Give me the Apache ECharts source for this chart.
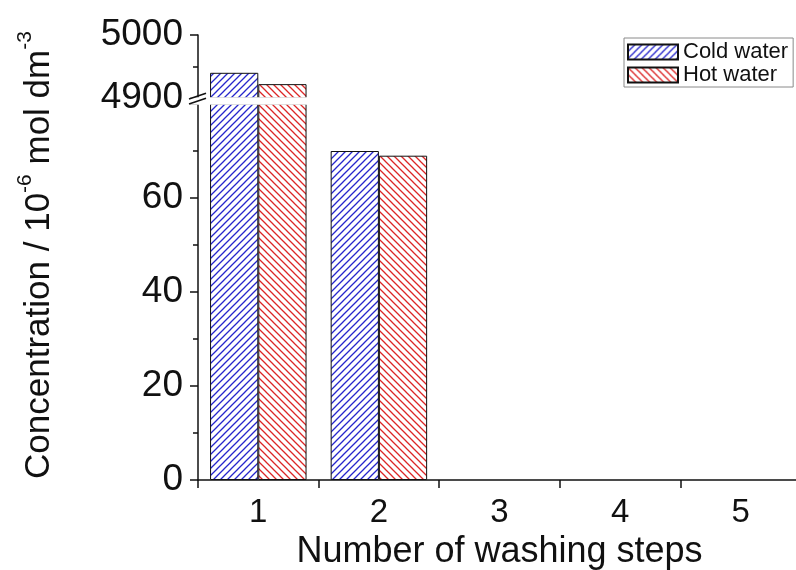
<!DOCTYPE html>
<html>
<head>
<meta charset="utf-8">
<script src="https://cdn.jsdelivr.net/npm/echarts@6/dist/echarts.min.js"></script>
<style>
  html, body { margin: 0; padding: 0; background: #fff; }
  #chart { width: 796px; height: 570px; }
</style>
</head>
<body>
<div id="chart"></div>
<script>
// Washing steps and measured concentrations (10^-6 mol dm^-3)
const steps = ['1', '2', '3', '4', '5'];
const coldWater = [4940, 70, 0, 0, 0];
const hotWater = [4922, 69, 0, 0, 0];

// Broken value axis: lower and upper segments
const lowerRange = [0, 80];
const lowerStep = 20;
const upperRange = [4900, 5000];
const upperStep = 100;

const FONT = "'Liberation Sans', Arial, Helvetica, sans-serif";
const INK = '#111';
const plotLeft = 198;
const plotWidth = 603;

// Diagonal hatch tile used as a repeating bar fill
function hatch(color, forward) {
  const s = 7;
  const c = document.createElement('canvas');
  c.width = s; c.height = s;
  const g = c.getContext('2d');
  g.fillStyle = '#fff';
  g.fillRect(0, 0, s, s);
  g.strokeStyle = color;
  g.lineWidth = 1.3;
  g.beginPath();
  if (forward) {
    g.moveTo(0, s); g.lineTo(s, 0);
    g.moveTo(-1, 1); g.lineTo(1, -1);
    g.moveTo(s - 1, s + 1); g.lineTo(s + 1, s - 1);
  } else {
    g.moveTo(0, 0); g.lineTo(s, s);
    g.moveTo(-1, s - 1); g.lineTo(1, s + 1);
    g.moveTo(s - 1, -1); g.lineTo(s + 1, 1);
  }
  g.stroke();
  return { image: c, repeat: 'repeat' };
}

const coldFill = hatch('#2626cc', true);
const hotFill = hatch('#dc2626', false);

function bars(name, values, fill, idx, keep) {
  return {
    name: name,
    type: 'bar',
    xAxisIndex: idx,
    yAxisIndex: idx,
    data: values.map(v => keep(v) ? v : '-'),
    barWidth: '40%',
    barGap: '0%',
    itemStyle: { color: fill, borderColor: INK, borderWidth: 1 },
    emphasis: { disabled: true },
    animation: false
  };
}

const axisLine = { show: true, lineStyle: { color: INK, width: 1.5 } };

function valueAxis(idx, range, step, showMax) {
  return {
    type: 'value',
    gridIndex: idx,
    min: range[0],
    max: range[1],
    interval: step,
    axisLine: axisLine,
    axisTick: { show: true, inside: false, length: 8, lineStyle: { color: INK, width: 1.5 } },
    minorTick: { show: true, splitNumber: 2, length: 5, lineStyle: { color: INK, width: 1.5 } },
    splitLine: { show: false },
    minorSplitLine: { show: false },
    axisLabel: {
      show: true, margin: 15, fontSize: 37, fontFamily: FONT, color: INK,
      showMinLabel: true, showMaxLabel: showMax,
      formatter: v => String(v)
    }
  };
}

const chart = echarts.init(document.getElementById('chart'), null, { renderer: 'canvas' });

chart.setOption({
  backgroundColor: '#fff',
  animation: false,
  grid: [
    { left: plotLeft, top: 35, width: plotWidth, height: 63, outerBoundsMode: 'none', containLabel: false },
    { left: plotLeft, top: 104, width: plotWidth, height: 376, outerBoundsMode: 'none', containLabel: false }
  ],
  legend: {
    orient: 'vertical',
    left: 624,
    top: 38,
    icon: 'rect',
    itemWidth: 50,
    itemHeight: 15,
    itemGap: 1,
    padding: [3, 5, 1, 3],
    borderColor: '#8a8a8a',
    borderWidth: 1,
    textStyle: { fontSize: 22, lineHeight: 22, fontFamily: FONT, color: INK },
    data: ['Cold water', 'Hot water']
  },
  xAxis: [
    {
      type: 'category', gridIndex: 0, data: steps, show: false
    },
    {
      type: 'category',
      gridIndex: 1,
      data: steps,
      boundaryGap: true,
      axisLine: axisLine,
      axisTick: { show: true, inside: false, length: 8, alignWithLabel: false, lineStyle: { color: INK, width: 1.5 } },
      axisLabel: { margin: 16, fontSize: 33, fontFamily: FONT, color: INK },
      splitLine: { show: false },
      name: 'Number of washing steps',
      nameLocation: 'middle',
      nameGap: 48,
      nameTextStyle: { fontSize: 36, fontFamily: FONT, color: INK }
    }
  ],
  yAxis: [
    valueAxis(0, upperRange, upperStep, true),
    valueAxis(1, lowerRange, lowerStep, false)
  ],
  series: [
    bars('Cold water', coldWater, coldFill, 0, v => v >= upperRange[0]),
    bars('Hot water', hotWater, hotFill, 0, v => v >= upperRange[0]),
    bars('Cold water', coldWater, coldFill, 1, v => v > 0),
    bars('Hot water', hotWater, hotFill, 1, v => v > 0)
  ]
});

// Axis break: blank band across the gap between the two segments, plus two slashes
const gapTop = chart.convertToPixel({ yAxisIndex: 0 }, upperRange[0]);
const gapBottom = chart.convertToPixel({ yAxisIndex: 1 }, lowerRange[1]);

chart.setOption({
  graphic: [
    {
      type: 'rect', z: 100,
      shape: { x: plotLeft - 12, y: gapTop - 0.8, width: 796 - plotLeft + 12, height: gapBottom - gapTop + 1.6 },
      style: { fill: '#fff' }
    },
    {
      type: 'line', z: 101,
      shape: { x1: plotLeft - 9, y1: gapTop + 1, x2: plotLeft + 8, y2: gapTop - 4.7 },
      style: { stroke: INK, lineWidth: 1.5 }
    },
    {
      type: 'line', z: 101,
      shape: { x1: plotLeft - 9, y1: gapBottom + 0, x2: plotLeft + 8, y2: gapBottom - 5.7 },
      style: { stroke: INK, lineWidth: 1.5 }
    },
    {
      type: 'text', z: 101,
      x: 36, y: 255,
      rotation: Math.PI / 2,
      style: {
        text: '{m|Concentration / 10}{s|-6}{m| mol dm}{s|-3}',
        align: 'center',
        verticalAlign: 'middle',
        rich: {
          m: { fontSize: 35, fontFamily: FONT, fill: INK, lineHeight: 42, verticalAlign: 'bottom' },
          s: { fontSize: 21, fontFamily: FONT, fill: INK, lineHeight: 21, verticalAlign: 'top' }
        }
      }
    }
  ]
});
</script>
</body>
</html>
